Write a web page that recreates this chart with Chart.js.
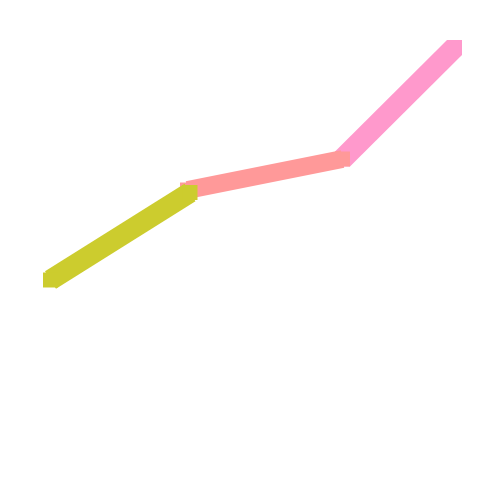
<!DOCTYPE html>
<html>
<head>
<meta charset="utf-8">
<script src="https://cdn.jsdelivr.net/npm/chart.js@4/dist/chart.umd.min.js"></script>
<style>
  html, body { margin: 0; padding: 0; background: #ffffff; }
  #c { display: block; }
</style>
</head>
<body>
<canvas id="c" width="500" height="500"></canvas>
<script>
// segment end points (x and y on a 0-100 scale)
const oliveX = [10.1, 38.0];
const oliveY = [44.0, 61.5];
const salmonX = [37.5, 68.5];
const salmonY = [62.0, 68.2];
const pinkX = [68.5, 90.9];
const pinkY = [68.2, 90.5];

const toPoints = (xs, ys) => xs.map((x, i) => ({ x: x, y: ys[i] }));

// thick strokes with square ends, like a square brush
function segment(xs, ys, color, width) {
    return {
        data: toPoints(xs, ys),
        borderColor: color,
        backgroundColor: color,
        borderWidth: width,
        borderCapStyle: 'butt',
        tension: 0,
        fill: false,
        pointStyle: 'rect',
        pointRadius: 10.6,
        pointBorderWidth: 0,
        pointBackgroundColor: color,
        pointHoverRadius: 10.6
    };
}

new Chart(document.getElementById('c').getContext('2d'), {
    type: 'line',
    data: {
        datasets: [
            segment(oliveX, oliveY, 'rgb(204,204,46)', 20.7),
            segment(salmonX, salmonY, 'rgb(255,153,153)', 17.6),
            segment(pinkX, pinkY, 'rgb(255,153,204)', 21.2)
        ]
    },
    options: {
        responsive: false,
        animation: false,
        devicePixelRatio: 1,
        layout: { padding: 0, autoPadding: false },
        plugins: {
            legend: { display: false },
            tooltip: { enabled: false }
        },
        scales: {
            x: { type: 'linear', min: 0, max: 100, display: false },
            y: { type: 'linear', min: 0, max: 100, display: false }
        }
    }
});
</script>
</body>
</html>
